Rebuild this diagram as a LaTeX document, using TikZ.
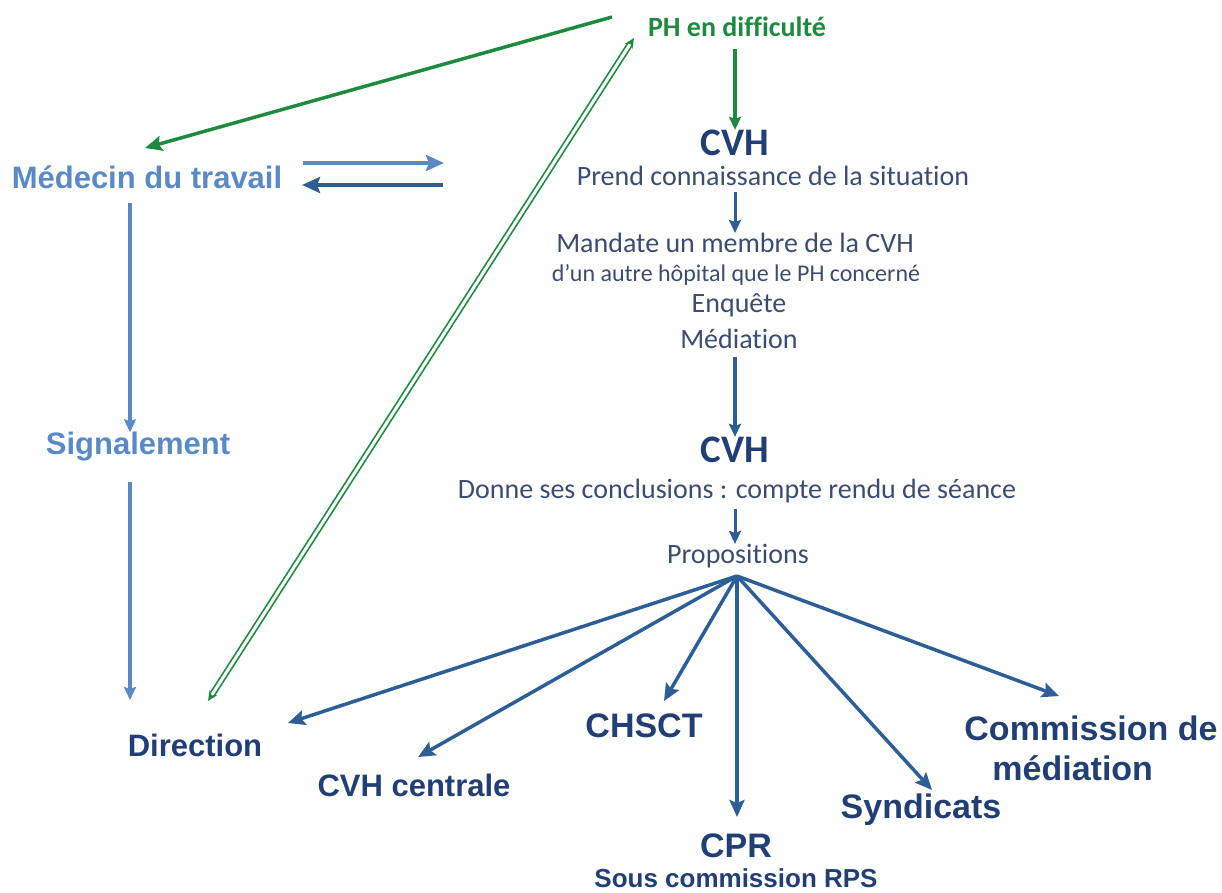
\documentclass[tikz,border=0pt]{standalone}
\usepackage{fontspec}
\setmainfont{Carlito}[Ligatures=NoCommon, RawFeature={-liga;-calt;-dlig}]
\newfontfamily\arialf{Liberation Sans}
\usetikzlibrary{arrows.meta}
\definecolor{phgreen}{HTML}{1E8A40}
\definecolor{medblue}{HTML}{5A8AC6}
\definecolor{navy}{HTML}{213F75}
\definecolor{greynavy}{HTML}{3C4C70}
\definecolor{fanblue}{HTML}{2D5E96}
\tikzset{
    big/.style={font=\arialf\bfseries\fontsize{31}{34}\selectfont, inner sep=0pt},
    bigger/.style={font=\arialf\bfseries\fontsize{34}{40}\selectfont, inner sep=0pt},
    small/.style={font=\fontsize{28}{30}\selectfont, text=greynavy, inner sep=0pt},
    cvh/.style={font=\bfseries\fontsize{39}{42}\selectfont, text=navy, inner sep=0pt},
    fanarrow/.style={-{Stealth[length=17pt,width=15pt,inset=3pt]}, fanblue, line width=3.5pt},
    sidearrow/.style={-{Stealth[length=18pt,width=16pt,inset=3pt]}, line width=4pt},
    stepdown/.style={-{Stealth[length=13pt,width=12pt,inset=2pt]}, line width=3.5pt}
}
\begin{document}
\begin{tikzpicture}[x=1pt, y=-1pt]
    \useasboundingbox (0,0) rectangle (1222,892);
    \node (ph) at (737,27) [font=\bfseries\fontsize{28}{30}\selectfont, text=phgreen, inner sep=0pt] {PH en difficulté};
    \node (cvha) at (735,143) [cvh] {CVH};
    \node (prend) at (773,176) [small] {Prend connaissance de la situation};
    \node (mandate) at (735,243) [small] {Mandate un membre de la CVH};
    \node (autre) at (736,275) [small, font=\fontsize{24}{26}\selectfont] {d’un autre hôpital que le PH concerné};
    \node (enq) at (739,305) [small] {Enquête};
    \node (medi) at (739,339) [small] {Médiation};
    \node (cvhb) at (735,450) [cvh] {CVH};
    \node (donne) at (737,491) [small] {Donne ses conclusions : compte rendu de séance};
    \node (prop) at (738,556) [small] {Propositions};
    \coordinate (fan) at (737,576);

    \node (med) at (147,177) [big, text=medblue] {Médecin du travail};
    \node (sig) at (138,447) [big, text=medblue] {Signalement};
    \node (dir) at (195,745) [big, text=navy] {Direction};
    \node (cvhc) at (414,785) [big, text=navy] {CVH centrale};
    \node (chsct) at (644,726) [bigger, text=navy] {CHSCT};
    \node (cpr) at (736,846) [bigger, text=navy] {CPR};
    \node (sous) at (736,887) [big, anchor=base, text=navy, font=\arialf\bfseries\fontsize{26}{30}\selectfont] {Sous commission RPS};
    \node (synd) at (921,810) [bigger, text=navy] {Syndicats};
    \node (comm) at (1091,748) [bigger, text=navy, align=left] {Commission de\\\hspace*{28pt}médiation};

    \coordinate (medoutA) at (303,163);
    \coordinate (medoutB) at (444,163);
    \coordinate (medinA) at (443,185);
    \coordinate (medinB) at (302,185);
    \coordinate (phleft) at (612,17);
    \coordinate (medtop) at (145,148);
    \coordinate (dbltop) at (634,38);
    \coordinate (dblbot) at (208,701);
    \coordinate (dirtip) at (288,723);
    \coordinate (cvhctip) at (418,757);
    \coordinate (chsctip) at (664,701);
    \coordinate (cprtip) at (737,817);
    \coordinate (synditip) at (932,790);
    \coordinate (commtip) at (1059,696);

    \draw[-{Stealth[length=17pt,width=15pt,inset=3pt]}, phgreen, line width=3.5pt] (phleft) -- (medtop);
    \draw[stepdown, phgreen] (ph.south -| cvha) ++(0,12) -- (cvha.north);
    \draw[stepdown, fanblue, line width=3pt] (prend.south -| cvha) ++(0,6) -- (mandate.north -| cvha);
    \draw[stepdown, fanblue] (medi.south -| cvha) ++(0,8) -- (cvhb.north);
    \draw[stepdown, fanblue, line width=3pt] (donne.south -| cvha) ++(0,6) -- (prop.north -| cvha);

    \draw[sidearrow, medblue] (medoutA) -- (medoutB);
    \draw[sidearrow, fanblue] (medinA) -- (medinB);
    \draw[stepdown, medblue, line width=4pt] (med.south -| 130,0) ++(0,14) -- (sig.north -| 130,0);
    \draw[stepdown, medblue, line width=4pt] (sig.south -| 130,0) ++(0,20) -- (130,700);

    \draw[{Stealth[length=10pt,width=9pt]}-{Stealth[length=10pt,width=9pt]}, phgreen, double=white, double distance=3pt, line width=1.7pt] (dblbot) -- (dbltop);

    \foreach \t in {dirtip,cvhctip,chsctip,cprtip,synditip,commtip}
        \draw[fanarrow] (fan) -- (\t);
\end{tikzpicture}
\end{document}
